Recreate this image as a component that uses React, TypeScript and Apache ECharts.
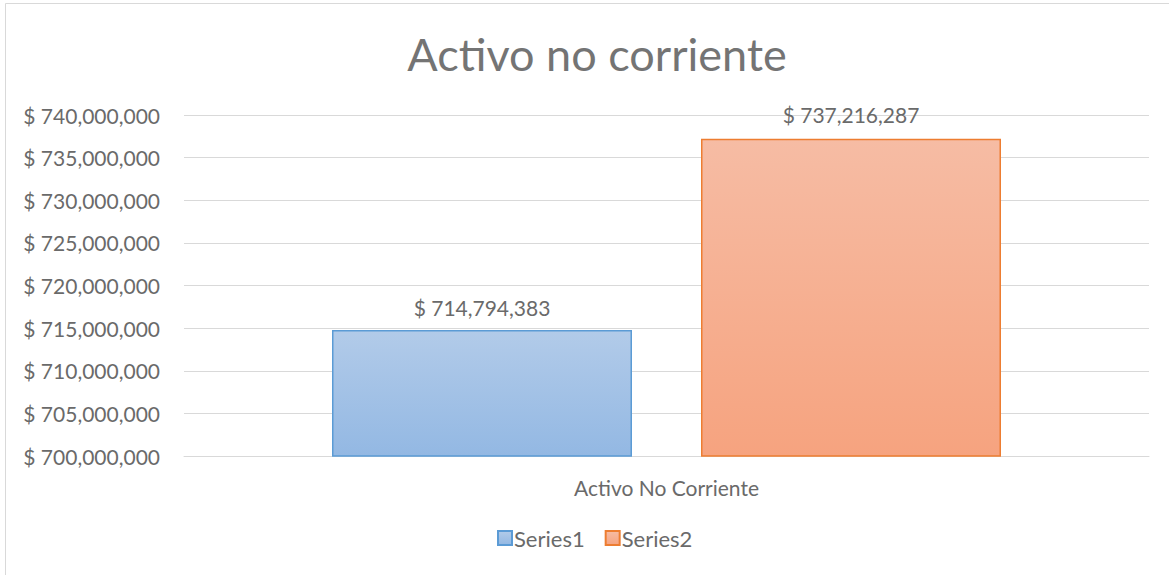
import React, { useEffect, useRef } from "react";
import * as echarts from "echarts";

const categories = ["Activo No Corriente"];
const series1Values = [714794383];
const series2Values = [737216287];
const seriesNames = ["Series1", "Series2"];
const titleText = "Activo no corriente";

const FONT = "Lato, 'Open Sans', sans-serif";
const TXT = "#6a6a6a";
const fmt = (v: number) => "$ " + v.toLocaleString("en-US");

export default function App() {
  const ref = useRef<HTMLDivElement>(null);
  useEffect(() => {
    const chart = echarts.init(ref.current!, null, { renderer: "svg" });
    chart.setOption({
      animation: false,
      backgroundColor: "#ffffff",
      title: {
        text: titleText,
        left: 597,
        textAlign: "center",
        top: 31,
        padding: 0,
        textStyle: { fontFamily: FONT, fontSize: 45, fontWeight: "normal", color: "#747474" },
      },
      graphic: [
        {
          type: "polyline",
          shape: { points: [[5.5, 575], [5.5, 3.5], [1169, 3.5]] },
          style: { stroke: "#d9d9d9", lineWidth: 1, fill: null },
          silent: true,
        },
      ],
      legend: {
        bottom: 21,
        left: 492,
        icon: "rect",
        itemWidth: 14,
        itemHeight: 14,
        itemGap: 20,
        textStyle: { fontFamily: FONT, fontSize: 22, color: TXT, padding: [0, 0, 0, -3] },
        data: seriesNames,
      },
      grid: { left: 184, right: 20, top: 115, bottom: 119, containLabel: false },
      xAxis: {
        type: "category",
        data: categories,
        axisLine: { show: true, lineStyle: { color: "#d9d9d9", width: 1 } },
        axisTick: { show: false },
        axisLabel: { fontFamily: FONT, fontSize: 21, color: TXT, margin: 21 },
      },
      yAxis: {
        type: "value",
        min: 700000000,
        max: 740000000,
        interval: 5000000,
        axisLine: { show: false },
        axisTick: { show: false },
        splitLine: { lineStyle: { color: "#d9d9d9", width: 1 } },
        axisLabel: {
          fontFamily: FONT,
          fontSize: 21,
          color: TXT,
          margin: 24,
          formatter: (v: number) => fmt(v),
        },
      },
      series: [
        {
          name: seriesNames[0],
          type: "bar",
          data: series1Values,
          barWidth: 300,
          barGap: "23%",
          itemStyle: {
            color: new echarts.graphic.LinearGradient(0, 0, 0, 1, [
              { offset: 0, color: "#b2cbe9" },
              { offset: 1, color: "#93b8e3" },
            ]),
            borderColor: "#5b9bd5",
            borderWidth: 1.5,
          },
          label: {
            show: true,
            position: "top",
            distance: 12,
            fontFamily: FONT,
            fontSize: 21,
            color: TXT,
            formatter: (p: any) => fmt(p.value),
          },
        },
        {
          name: seriesNames[1],
          type: "bar",
          data: series2Values,
          barWidth: 300,
          barGap: "23%",
          itemStyle: {
            color: new echarts.graphic.LinearGradient(0, 0, 0, 1, [
              { offset: 0, color: "#f6bca4" },
              { offset: 1, color: "#f6a37f" },
            ]),
            borderColor: "#ed7d31",
            borderWidth: 1.5,
          },
          label: {
            show: true,
            position: "top",
            distance: 14,
            fontFamily: FONT,
            fontSize: 21,
            color: TXT,
            formatter: (p: any) => fmt(p.value),
          },
        },
      ],
    });
    return () => chart.dispose();
  }, []);
  return (
    <div
      ref={ref}
      style={{ position: "fixed", left: 0, top: 0, width: 1169, height: 575 }}
    />
  );
}
